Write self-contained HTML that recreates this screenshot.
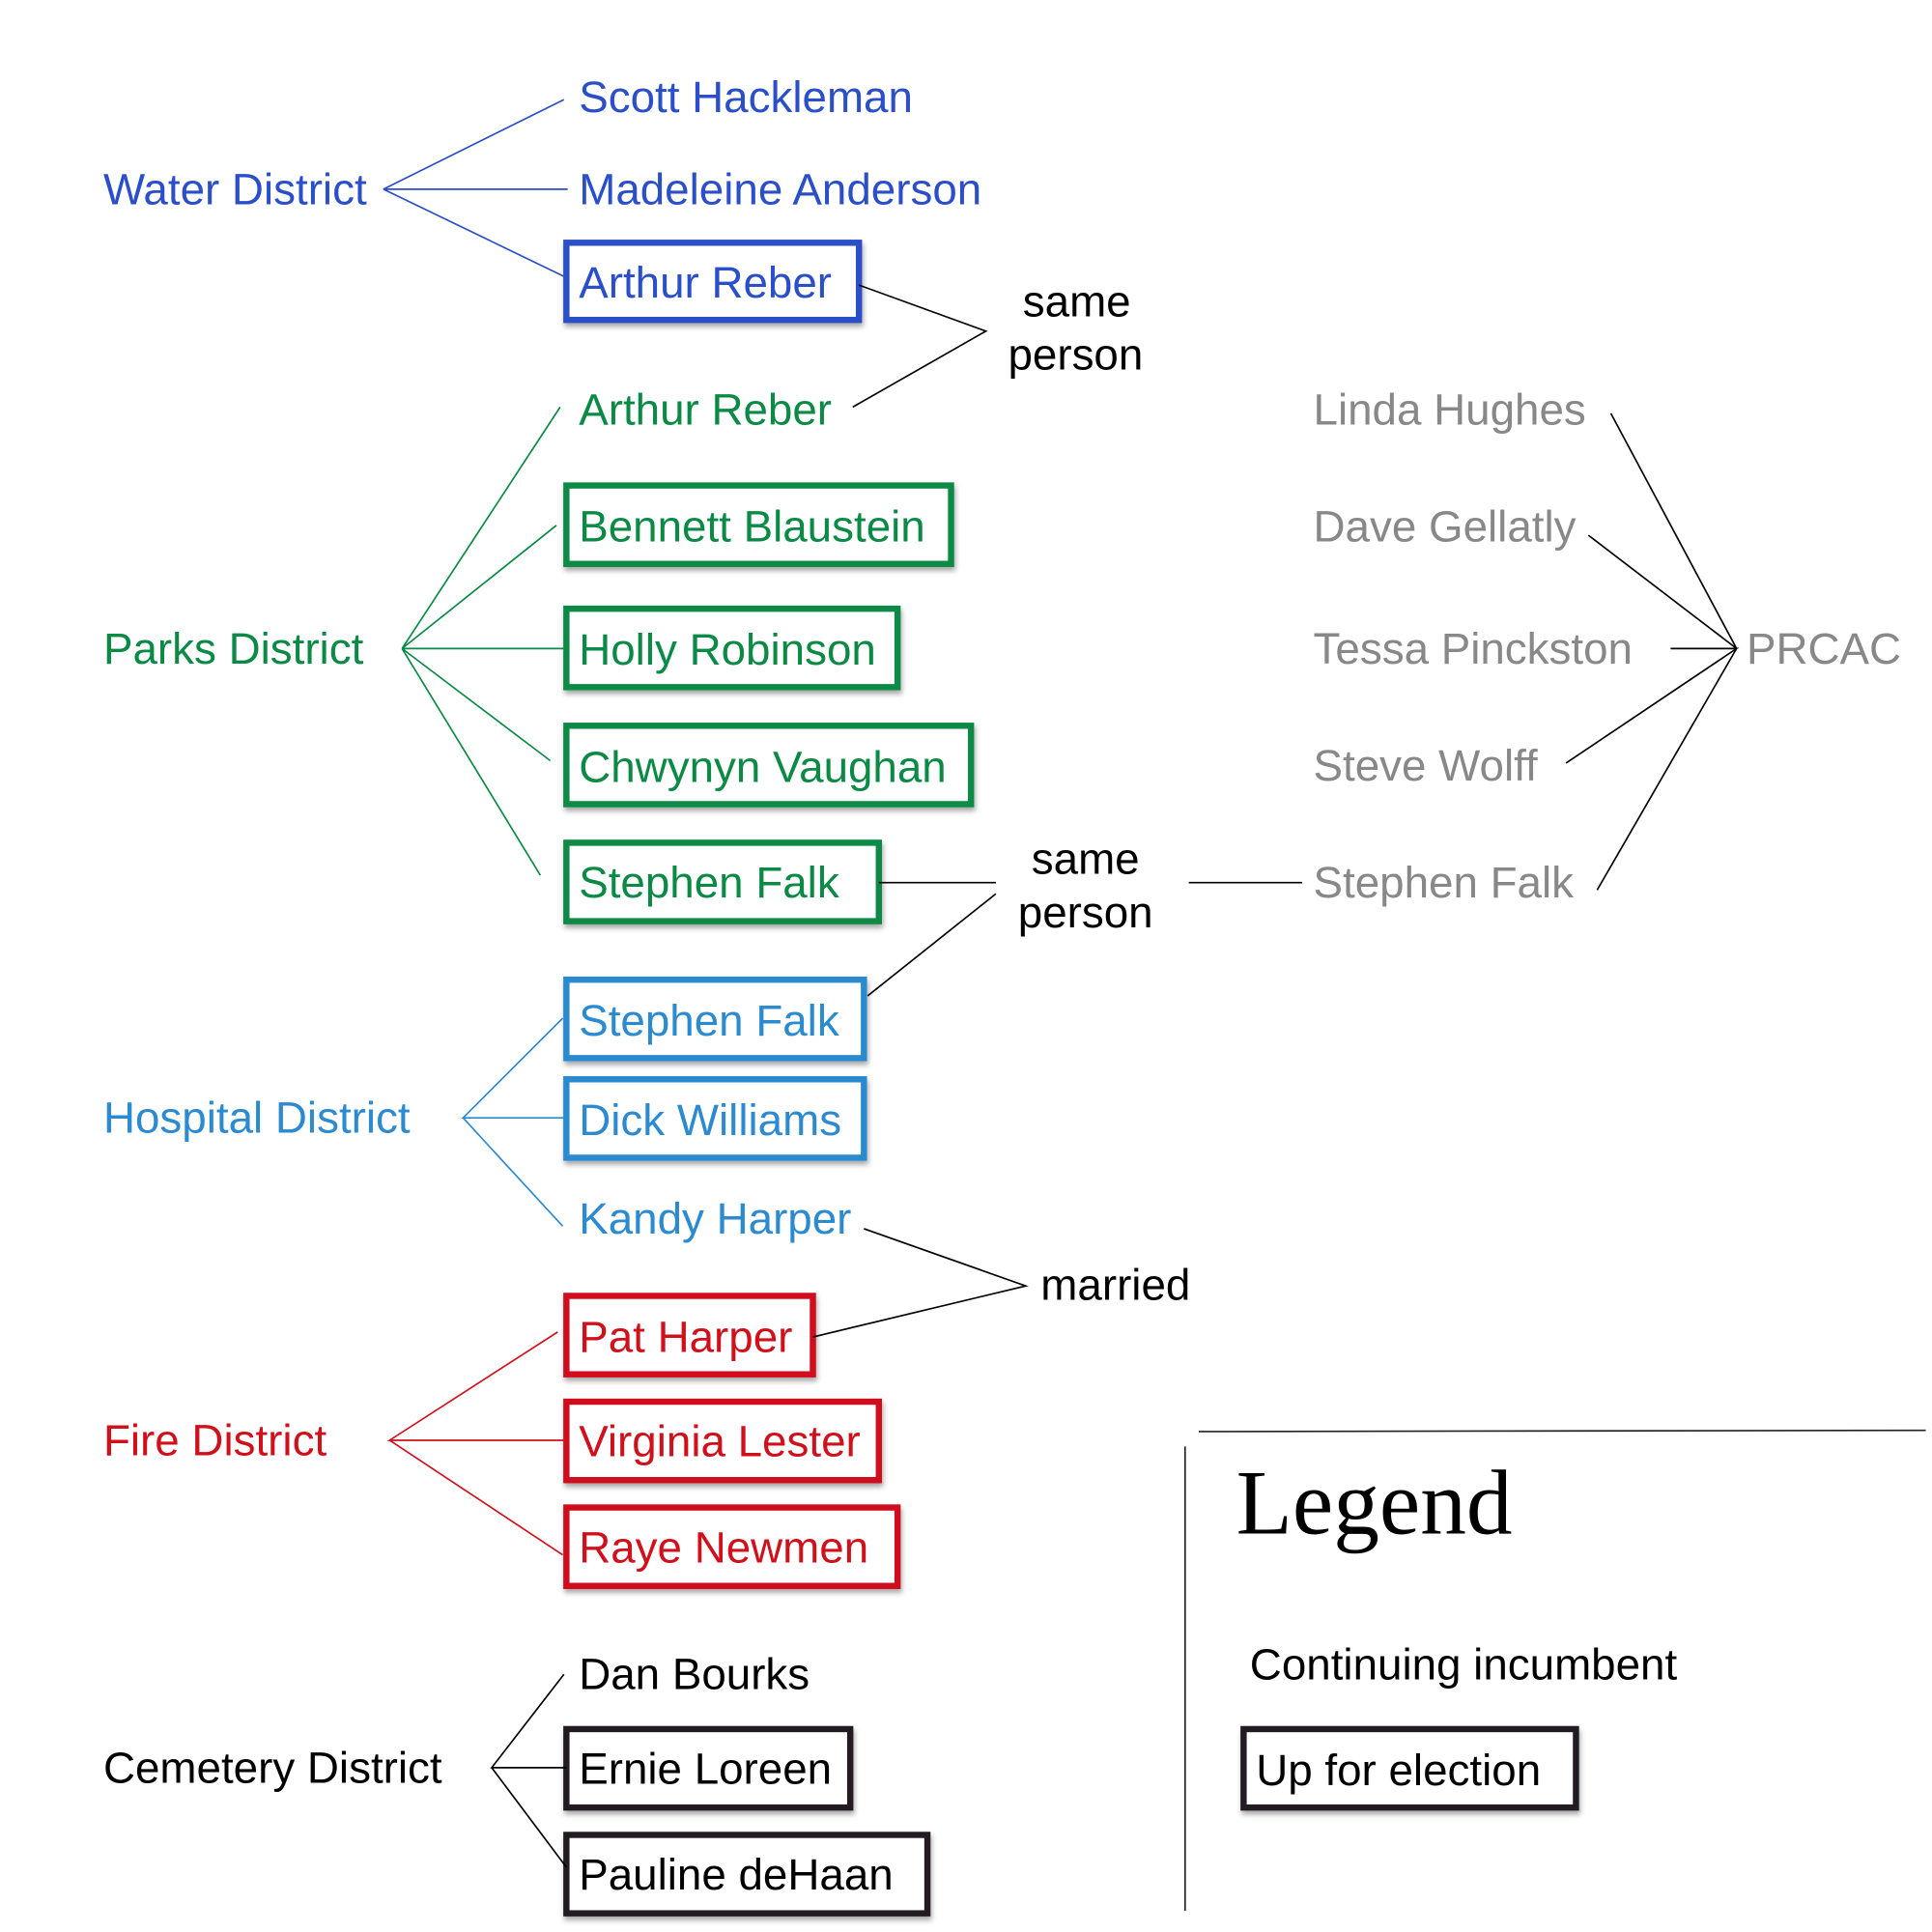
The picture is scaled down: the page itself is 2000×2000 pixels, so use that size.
<!DOCTYPE html>
<html><head><meta charset="utf-8"><style>
html,body{margin:0;padding:0;background:#fff;}
svg{display:block;}
text{font-family:"Liberation Sans",Arial,sans-serif;font-size:35.5px;}
</style></head><body>
<svg width="2000" height="2000" viewBox="0 0 1552 1552" xmlns="http://www.w3.org/2000/svg">
<defs><filter id="sh" x="-10%" y="-10%" width="130%" height="140%"><feDropShadow dx="1" dy="3" stdDeviation="2" flood-color="#000" flood-opacity="0.35"/></filter></defs>
<rect width="1552" height="1552" fill="#fff"/>
<g fill="#fff" stroke-width="5" filter="url(#sh)">
<rect x="455" y="195" width="235" height="62" stroke="#2a4fc8"/>
<rect x="455" y="390" width="309" height="63" stroke="#0a8a44"/>
<rect x="455" y="489" width="266" height="63" stroke="#0a8a44"/>
<rect x="455" y="583" width="325" height="63" stroke="#0a8a44"/>
<rect x="455" y="677" width="251" height="63" stroke="#0a8a44"/>
<rect x="455" y="787" width="239" height="63" stroke="#2b8ad0"/>
<rect x="455" y="867" width="239" height="63" stroke="#2b8ad0"/>
<rect x="455" y="1041" width="198" height="63" stroke="#d0101a"/>
<rect x="455" y="1126" width="251" height="63" stroke="#d0101a"/>
<rect x="455" y="1211" width="266" height="63" stroke="#d0101a"/>
<rect x="455" y="1389" width="228" height="63" stroke="#231f20"/>
<rect x="455" y="1474" width="290" height="63" stroke="#231f20"/>
<rect x="999" y="1389" width="267" height="63" stroke="#231f20"/>
</g>
<g fill="none" stroke-width="1.3">
<path d="M453,80 L308,152 L456,152 M308,152 L453,222" stroke="#2a4fc8"/>
<path d="M450,327 L323,521 L447,422 M323,521 L455,521 M323,521 L442,611 M323,521 L434,703" stroke="#0a8a44"/>
<path d="M452,818 L372,898 L455,898 M372,898 L452,985" stroke="#2b8ad0"/>
<path d="M448,1070 L313,1157 L455,1157 M313,1157 L452,1249" stroke="#d0101a"/>
<path d="M453,1345 L395,1420 L455,1420 M395,1420 L455,1500" stroke="#000"/>
<path d="M690,229 L792,266 L685,327" stroke="#000"/>
<path d="M706,709 L800,709 M697,800 L800,718 M955,709 L1046,709" stroke="#000"/>
<path d="M694,987 L824,1033 L653,1074" stroke="#000"/>
<path d="M1294,332 L1395,521 L1276,430 M1342,521 L1395,521 L1258,613 M1395,521 L1283,715" stroke="#000"/>
<path d="M963,1150 L1547,1149 M952,1162 L952,1535" stroke="#222"/>
</g>
<g fill="#2a4fc8">
<text x="83" y="164">Water District</text>
<text x="465" y="90">Scott Hackleman</text>
<text x="465" y="164">Madeleine Anderson</text>
<text x="465" y="239">Arthur Reber</text>
</g>
<g fill="#0a8a44">
<text x="83" y="533">Parks District</text>
<text x="465" y="341">Arthur Reber</text>
<text x="465" y="435">Bennett Blaustein</text>
<text x="465" y="534">Holly Robinson</text>
<text x="465" y="628">Chwynyn Vaughan</text>
<text x="465" y="721">Stephen Falk</text>
</g>
<g fill="#2b8ad0">
<text x="83" y="910">Hospital District</text>
<text x="465" y="832">Stephen Falk</text>
<text x="465" y="912">Dick Williams</text>
<text x="465" y="991">Kandy Harper</text>
</g>
<g fill="#d0101a">
<text x="83" y="1169">Fire District</text>
<text x="465" y="1086">Pat Harper</text>
<text x="465" y="1170">Virginia Lester</text>
<text x="465" y="1255">Raye Newmen</text>
</g>
<g fill="#000">
<text x="83" y="1432">Cemetery District</text>
<text x="465" y="1357">Dan Bourks</text>
<text x="465" y="1433">Ernie Loreen</text>
<text x="465" y="1518">Pauline deHaan</text>
<text x="865" y="254" text-anchor="middle">same</text>
<text x="864" y="297" text-anchor="middle">person</text>
<text x="872" y="702" text-anchor="middle">same</text>
<text x="872" y="745" text-anchor="middle">person</text>
<text x="836" y="1044">married</text>
<text x="1004" y="1349">Continuing incumbent</text>
<text x="1009" y="1434">Up for election</text>
<text x="993" y="1232" style="font-family:'Liberation Serif',serif;font-size:74px">Legend</text>
</g>
<g fill="#888">
<text x="1055" y="341">Linda Hughes</text>
<text x="1055" y="435">Dave Gellatly</text>
<text x="1055" y="533">Tessa Pinckston</text>
<text x="1055" y="627">Steve Wolff</text>
<text x="1055" y="721">Stephen Falk</text>
<text x="1403" y="533">PRCAC</text>
</g>
</svg>
</body></html>
